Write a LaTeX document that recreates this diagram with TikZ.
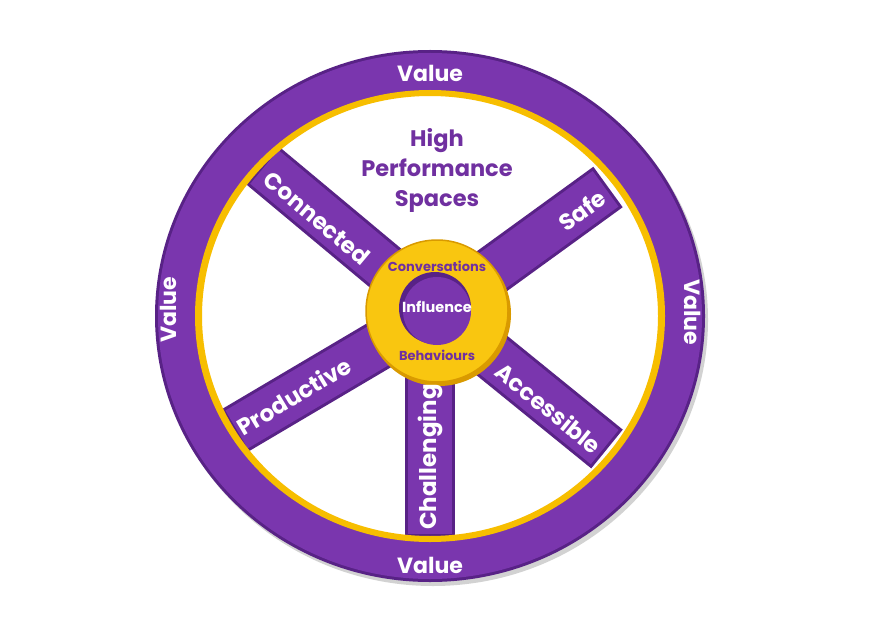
\documentclass[tikz,border=0pt]{standalone}
\usepackage{fontspec}
\setmainfont{Poppins}
\usepackage{tikz}
\usetikzlibrary{calc}
\definecolor{wheelpurple}{HTML}{7A36AE}
\definecolor{darkpurple}{HTML}{582286}
\definecolor{textpurple}{HTML}{7030A0}
\definecolor{rimgold}{HTML}{F7BE00}
\definecolor{hubgold}{HTML}{F9C610}
\definecolor{hubedge}{HTML}{D99A00}
\newcommand{\spoke}[2]{ \draw[line width=50pt,darkpurple] (#1) -- (#2); \draw[line width=44pt,wheelpurple,shorten >=3pt] (#1) -- (#2);}
\newcommand{\spokelabel}[5]{\node[spoketext,rotate=#4] (#5) at ( #1 , #2 ) {#3};}
\tikzset{
  valuetext/.style={text=white,font=\bfseries\fontsize{22}{24}\selectfont},
  spoketext/.style={text=white,font=\bfseries\fontsize{23}{25}\selectfont},
  hubtext/.style={text=textpurple,font=\bfseries\fontsize{13}{15}\selectfont},
}

\begin{document}
\begin{tikzpicture}[x=1pt,y=-1pt]
        \useasboundingbox (0,0) rectangle (890,644);

        % rim
        \fill[gray!35] (433,320) ellipse [x radius=275, y radius=266];
        \fill[darkpurple] (430,316) ellipse [x radius=275, y radius=266];
        \fill[wheelpurple] (430,316) ellipse [x radius=272, y radius=263];
        \fill[white] (430,316) ellipse [x radius=230, y radius=222];

        % spokes
        \coordinate (hub) at (437,311);
        \coordinate (hubC) at (430,311);
        \coordinate (endConnected) at (262,165);
        \coordinate (endSafe) at (608,187);
        \coordinate (endProductive) at (234,431);
        \coordinate (endAccessible) at (607,449);
        \coordinate (endChallenging) at (430,537);
        \spoke{hub}{endConnected}
        \spoke{hub}{endSafe}
        \spoke{hub}{endProductive}
        \spoke{hub}{endAccessible}
        \spoke{hubC}{endChallenging}

        % gold band
        \fill[rimgold,even odd rule] (430,316) ellipse [x radius=235, y radius=226]
             (430,316) ellipse [x radius=228, y radius=220];

        % hub
        \fill[hubedge] (439,314) circle [radius=72];
        \fill[hubgold,draw=hubedge,line width=1.5pt] (hub) circle [radius=71];
        \fill[darkpurple] (435,308) circle [radius=36];
        \fill[wheelpurple] (hub) circle [radius=34];

        % labels
        \node[valuetext] (valTop) at (430,73) {Value};
        \node[valuetext] (valBottom) at (430,565) {Value};
        \node[valuetext,rotate=90] (valLeft) at (168,310) {Value};
        \node[valuetext,rotate=-90] (valRight) at (693,312) {Value};

        \spokelabel{317}{218}{Connected}{-40}{lblConnected}
        \spokelabel{582}{210}{Safe}{36}{lblSafe}
        \spokelabel{294}{396}{Productive}{31}{lblProductive}
        \spokelabel{549}{408}{Accessible}{-39}{lblAccessible}
        \spokelabel{430}{457}{Challenging}{90}{lblChallenging}

        \node[hubtext] (conv) at (437,266) {Conversations};
        \node[hubtext,text=white,font=\bfseries\fontsize{14.5}{16}\selectfont] (infl) at (437,307) {Influence};
        \node[hubtext] (behav) at (437,355) {Behaviours};

        \node[text=textpurple,font=\bfseries\fontsize{22.5}{30}\selectfont,align=center] (title) at (437,170) {High\\Performance\\Spaces};
    \end{tikzpicture}
\end{document}
